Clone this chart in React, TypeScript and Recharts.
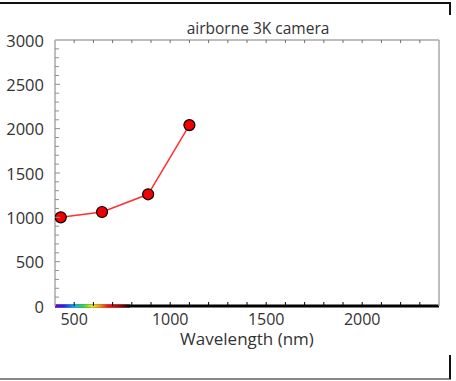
import React from 'react';
import {
  LineChart,
  Line,
  XAxis,
  YAxis,
  ReferenceLine,
  ReferenceArea,
  Label,
} from 'recharts';

const wavelengths = [430, 645, 885, 1100];
const values = [1000, 1060, 1260, 2040];

const xTicks = [400, 500, 600, 700, 800, 900, 1000, 1100, 1200, 1300, 1400, 1500, 1600, 1700, 1800, 1900, 2000, 2100, 2200, 2300, 2400];
const xLabels = [500, 1000, 1500, 2000];
const yTicks = [0, 100, 200, 300, 400, 500, 600, 700, 800, 900, 1000, 1100, 1200, 1300, 1400, 1500, 1600, 1700, 1800, 1900, 2000, 2100, 2200, 2300, 2400, 2500, 2600, 2700, 2800, 2900, 3000];
const yLabels = [0, 500, 1000, 1500, 2000, 2500, 3000];

const data = wavelengths.map((w, i) => ({ w, v: values[i] }));

const FONT = '"Open Sans", Lato, sans-serif';
const TEXT = '#333333';
const AXIS_GRAY = '#a8a8a8';

const BottomTick = (props: any) => {
  const { x, y, payload } = props;
  const v = payload.value;
  return (
    <g>
      {v > 400 && v < 2400 && (
        <line x1={x} x2={x} y1={y} y2={y - 4} stroke="#000" strokeWidth={1} />
      )}
      {xLabels.includes(v) && (
        <text x={x} y={y + 12.5} textAnchor="middle" dominantBaseline="central" fill={TEXT} fontSize={16} fontFamily={FONT}>
          {v}
        </text>
      )}
    </g>
  );
};

const TopTick = (props: any) => {
  const { x, y, payload } = props;
  const v = payload.value;
  if (v <= 400 || v >= 2400) return <g />;
  return <line x1={x} x2={x} y1={y} y2={y + 3} stroke="#707070" strokeWidth={1} />;
};

const LeftTick = (props: any) => {
  const { x, y, payload } = props;
  const v = payload.value;
  const major = yLabels.includes(v);
  return (
    <g>
      {v > 0 && v < 3000 && (
        <line x1={x} x2={x + (major ? 5 : 4)} y1={y} y2={y} stroke="#909090" strokeWidth={1} />
      )}
      {major && (
        <text x={x - 11} y={y} textAnchor="end" dominantBaseline="central" fill={TEXT} fontSize={16.5} fontFamily={FONT}>
          {v}
        </text>
      )}
    </g>
  );
};

const Dot = (props: any) => {
  const { cx, cy } = props;
  return <circle cx={cx} cy={cy} r={5.5} fill="#f00000" stroke="#000" strokeWidth={1.2} />;
};

export default function App() {
  return (
    <div style={{ position: 'absolute', left: 0, top: 0, width: 456, height: 381, background: '#fff' }}>
      <div style={{ position: 'absolute', left: 0, top: 2, width: 451, height: 2, background: '#111' }} />
      <div style={{ position: 'absolute', left: 449, top: 3, width: 2, height: 12, background: '#111' }} />
      <div style={{ position: 'absolute', left: 0, top: 378, width: 451, height: 1.5, background: '#888' }} />
      <div style={{ position: 'absolute', left: 449, top: 355, width: 2, height: 24, background: '#111' }} />
      <LineChart
        width={456}
        height={381}
        data={data}
        margin={{ top: 39, right: 17, bottom: 25, left: 0 }}
        style={{ fontFamily: FONT }}
      >
        <defs>
          <linearGradient id="spectrum" x1="0" y1="0" x2="1" y2="0">
            <stop offset="0" stopColor="#7000c8" />
            <stop offset="0.12" stopColor="#2020ff" />
            <stop offset="0.26" stopColor="#00b0ff" />
            <stop offset="0.38" stopColor="#20e040" />
            <stop offset="0.5" stopColor="#f0f000" />
            <stop offset="0.6" stopColor="#ff9000" />
            <stop offset="0.7" stopColor="#ff1010" />
            <stop offset="0.85" stopColor="#b00000" />
            <stop offset="1" stopColor="#000000" />
          </linearGradient>
        </defs>
        <XAxis
          dataKey="w"
          type="number"
          domain={[400, 2400]}
          ticks={xTicks}
          interval={0}
          tick={<BottomTick />}
          tickLine={false}
          tickSize={0}
          tickMargin={0}
          axisLine={false}
          height={50}
          allowDataOverflow
        >
          <Label
            value="Wavelength (nm)"
            position="insideTop"
            offset={27}
            fill={TEXT}
            fontSize={17}
            fontFamily={FONT}
          />
        </XAxis>
        <XAxis
          xAxisId="top"
          orientation="top"
          dataKey="w"
          type="number"
          domain={[400, 2400]}
          ticks={xTicks}
          interval={0}
          tick={<TopTick />}
          tickLine={false}
          tickSize={0}
          tickMargin={0}
          axisLine={{ stroke: AXIS_GRAY, strokeWidth: 1.5 }}
          height={1}
        >
          <Label
            value="airborne 3K camera"
            position="top"
            offset={5}
            dx={11}
            fill={TEXT}
            fontSize={15.5}
            fontFamily={FONT}
          />
        </XAxis>
        <YAxis
          type="number"
          domain={[0, 3000]}
          ticks={yTicks}
          interval={0}
          tick={<LeftTick />}
          tickLine={false}
          tickSize={0}
          tickMargin={0}
          axisLine={{ stroke: AXIS_GRAY, strokeWidth: 1.5 }}
          width={55}
        />
        <ReferenceLine x={2400} stroke={AXIS_GRAY} strokeWidth={1.5} ifOverflow="visible" />
        <ReferenceArea
          x1={400}
          x2={2400}
          y1={-17}
          y2={17}
          fill="#000"
          fillOpacity={1}
          stroke="none"
          ifOverflow="visible"
        />
        <ReferenceArea
          x1={400}
          x2={790}
          y1={-17}
          y2={17}
          fill="url(#spectrum)"
          fillOpacity={1}
          stroke="none"
          ifOverflow="visible"
        />
        <Line
          dataKey="v"
          stroke="#ff3030"
          strokeWidth={1.5}
          dot={<Dot />}
          activeDot={false}
          isAnimationActive={false}
        />
      </LineChart>
    </div>
  );
}
